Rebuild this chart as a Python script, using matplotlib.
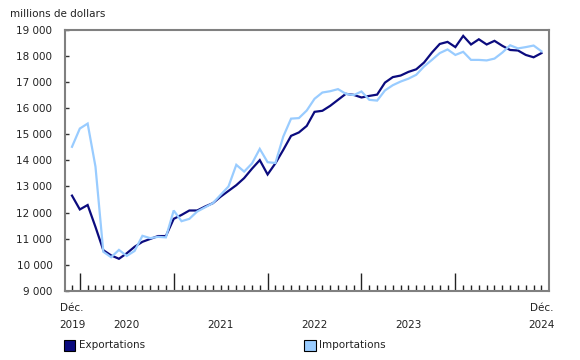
import matplotlib.pyplot as plt
from matplotlib.patches import Rectangle
from matplotlib.ticker import FixedLocator, FuncFormatter
import numpy as np

# monthly values, Dec 2019 -> Dec 2024 (millions de dollars)
exportations = [12650, 12120, 12290, 11450, 10560, 10360, 10230, 10440, 10690, 10880, 10990, 11100, 11100,
                11760, 11910, 12080, 12080, 12230, 12360, 12610, 12830, 13050, 13320, 13680, 14010,
                13460, 13890, 14400, 14940, 15070, 15320, 15860, 15900, 16090, 16320, 16550, 16510,
                16410, 16470, 16520, 16980, 17190, 17250, 17390, 17490, 17750, 18130, 18460, 18540,
                18340, 18770, 18440, 18640, 18440, 18580, 18390, 18230, 18210, 18040, 17950, 18110]
importations = [14520, 15220, 15410, 13760, 10500, 10290, 10570, 10340, 10530, 11110, 11020, 11070, 11050,
                12080, 11670, 11760, 12040, 12200, 12360, 12680, 13000, 13830, 13570, 13880, 14440,
                13930, 13900, 14910, 15600, 15620, 15910, 16360, 16600, 16650, 16730, 16550, 16500,
                16640, 16320, 16290, 16680, 16880, 17020, 17130, 17280, 17600, 17850, 18110, 18250,
                18040, 18160, 17850, 17850, 17830, 17900, 18130, 18410, 18290, 18340, 18400, 18180]
years = ["2020", "2021", "2022", "2023"]
y_ticks = list(range(9000, 19001, 1000))

col_exp = "#0b0b7e"
col_imp = "#99ccff"
grey = "#808080"

fig = plt.figure(figsize=(5.8, 3.6), dpi=100)
ax = fig.add_axes([0.112, 0.192, 0.835, 0.725])

months = np.arange(len(exportations))
ax.plot(months, exportations, color=col_exp, lw=1.6, solid_joinstyle="miter")
ax.plot(months, importations, color=col_imp, lw=1.6, solid_joinstyle="miter")

ax.set_xlim(-0.9, 61)
ax.set_ylim(9000, 19000)

for s in ax.spines.values():
    s.set_color(grey)
    s.set_linewidth(1.5)

# y axis
ax.yaxis.set_major_locator(FixedLocator(y_ticks))
ax.yaxis.set_major_formatter(FuncFormatter(lambda v, p: f"{int(v):,}".replace(",", " ")))
ax.tick_params(axis="y", direction="in", length=3, width=1, color="#333333",
               labelsize=7.5, pad=9, labelcolor="#222222")

# x axis: monthly minor ticks, tall tick each January
ax.xaxis.set_major_locator(FixedLocator(months[1::12]))
ax.xaxis.set_minor_locator(FixedLocator(months))
ax.tick_params(axis="x", which="major", direction="in", length=13, width=1, color="#222222", labelbottom=False)
ax.tick_params(axis="x", which="minor", direction="in", length=4, width=1, color="#222222")

tr = ax.get_xaxis_transform()
lab = dict(transform=tr, ha="center", va="top", fontsize=7.5, color="#222222")
ax.text(0, -0.045, "Déc.", **lab)
ax.text(0, -0.11, "2019", **lab)
ax.text(60, -0.045, "Déc.", **lab)
ax.text(60, -0.11, "2024", **lab)
for i, yr in enumerate(years):
    ax.text(1 + 12 * i + 6, -0.11, yr, **lab)

fig.text(0.017, 0.975, "millions de dollars", fontsize=7.5, color="#222222", va="top")

# legend
for x0, name, c in [(0.110, "Exportations", col_exp), (0.524, "Importations", col_imp)]:
    fig.patches.append(Rectangle((x0, 0.025), 0.02, 0.031, transform=fig.transFigure,
                                 facecolor=c, edgecolor="black", lw=0.8))
    fig.text(x0 + 0.026, 0.041, name, fontsize=7.5, color="#222222", va="center")

fig.savefig("out.png", dpi=100)
